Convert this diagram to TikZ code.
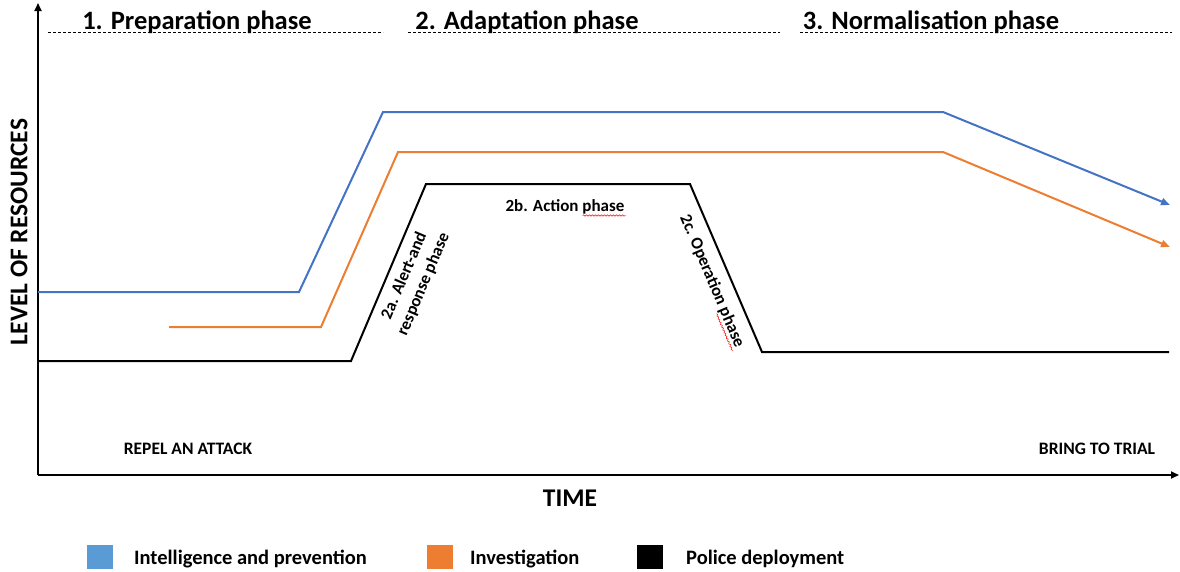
\documentclass[tikz,border=0pt]{standalone}
\usepackage{fontspec}
\setmainfont{Carlito}
\usetikzlibrary{arrows.meta,calc,decorations.pathmorphing}
\definecolor{lineblue}{HTML}{4472C4}
\definecolor{legblue}{HTML}{5B9BD5}
\definecolor{lineorange}{HTML}{ED7D31}
\begin{document}
\begin{tikzpicture}[x=1pt,y=-1pt,
  axis/.style={line width=1.8pt,-{Triangle[length=8pt,width=7pt]}},
  phaseline/.style={dash pattern=on 3pt off 2pt,line width=0.8pt},
  phasetitle/.style={font=\bfseries\fontsize{26.5}{30}\selectfont,anchor=base,inner sep=0pt},
  subphase/.style={font=\bfseries\fontsize{17}{21}\selectfont,inner sep=1pt,align=center},
  endlabel/.style={font=\bfseries\fontsize{17.5}{20}\selectfont,anchor=base,inner sep=0pt},
  axislabel/.style={font=\bfseries\fontsize{25.5}{29}\selectfont,inner sep=0pt},
  legtext/.style={font=\bfseries\fontsize{20.5}{23}\selectfont,anchor=base west,inner sep=0pt},
  legbox/.style={minimum width=26pt,minimum height=24pt,inner sep=0pt},
  series/.style={line width=2pt,line join=miter},
  spell/.style={draw=red,line width=0.5pt,decorate,decoration={snake,amplitude=0.7pt,segment length=3pt}},
  tip/.style={-{Triangle[length=9pt,width=7pt]}}]
\useasboundingbox (0,0) rectangle (1180,571);

% axes
\coordinate (O) at (38,475);
\coordinate (ytop) at (38,3);
\coordinate (xend) at (1179,475);
\draw[axis] (O) -- (ytop);
\draw[axis] (O) -- (xend);

% phase dashed lines
\coordinate (d1a) at (48,32); \coordinate (d1b) at (383,32);
\coordinate (d2a) at (408,32); \coordinate (d2b) at (780,32);
\coordinate (d3a) at (800,32); \coordinate (d3b) at (1172,32);
\draw[phaseline] (d1a) -- (d1b);
\draw[phaseline] (d2a) -- (d2b);
\draw[phaseline] (d3a) -- (d3b);

\node[phasetitle] (t1) at (197,29) {1. Preparation phase};
\node[phasetitle] (t2) at (527,29) {2. Adaptation phase};
\node[phasetitle] (t3) at (931,29) {3. Normalisation phase};

% blue series
\coordinate (b1) at (38,292);
\coordinate (b2) at (299,292);
\coordinate (b3) at (383,112);
\coordinate (b4) at (943,112);
\coordinate (b5) at (1170,205);
\draw[series,lineblue,tip] (b1) -- (b2) -- (b3) -- (b4) -- (b5);

% orange series
\coordinate (o1) at (169,327);
\coordinate (o2) at (321,327);
\coordinate (o3) at (398,152);
\coordinate (o4) at (943,152);
\coordinate (o5) at (1170,247);
\draw[series,lineorange,tip] (o1) -- (o2) -- (o3) -- (o4) -- (o5);

% black series
\coordinate (k1) at (38,361);
\coordinate (k2) at (351,361);
\coordinate (k3) at (426,184);
\coordinate (k4) at (690,184);
\coordinate (k5) at (762,352);
\coordinate (k6) at (1169,352);
\draw[series,black] (k1) -- (k2) -- (k3) -- (k4) -- (k5) -- (k6);

% sub-phase labels
\node[subphase,rotate=67] (p2a) at (414,280) {2a. Alert-and\\response phase};
\node[subphase] (p2b) at (565,207) {2b. Action phase};
\node[subphase,rotate=-67] (p2c) at (712,281) {2c. Operation phase};
\draw[spell] ($(p2b.south west)!0.645!(p2b.south east)$) -- (p2b.south east);
\draw[spell] ($(p2c.south west)!0.72!(p2c.south east)$) -- (p2c.south east);

% end labels
\node[endlabel] (repel) at (188,454) {REPEL AN ATTACK};
\node[endlabel] (trial) at (1097,454) {BRING TO TRIAL};

% axis labels
\node[axislabel] (time) at (570,498) {TIME};
\node[axislabel,rotate=90] (level) at (19,232) {LEVEL OF RESOURCES};

% legend
\node[legbox,fill=legblue] (lb1) at (100,557) {};
\node[legtext] (lt1) at (134,564) {Intelligence and prevention};
\node[legbox,fill=lineorange] (lb2) at (440,557) {};
\node[legtext] (lt2) at (470,564) {Investigation};
\node[legbox,fill=black] (lb3) at (650,557) {};
\node[legtext] (lt3) at (686,564) {Police deployment};
\end{tikzpicture}
\end{document}
